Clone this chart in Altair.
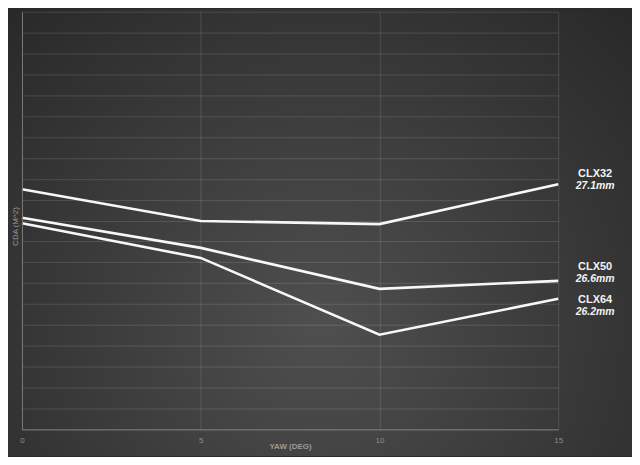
import altair as alt
import pandas as pd

# ---- data (y in grid units, 20 gridline intervals) ----
yaw = [0, 5, 10, 15]
series_names = ["CLX32", "CLX50", "CLX64"]
series_depths = ["27.1mm", "26.6mm", "26.2mm"]
clx32 = [11.50, 9.98, 9.83, 11.74]
clx50 = [10.13, 8.69, 6.73, 7.11]
clx64 = [9.87, 8.21, 4.53, 6.25]
x_ticks = [0, 5, 10, 15]
y_grid = list(range(0, 21))

# label offsets (pixels) relative to each line's last point
name_dy = [-10, -14, 1]
depth_dy = [2, -2, 13]

rows = []
for name, vals in zip(series_names, [clx32, clx50, clx64]):
    for x, v in zip(yaw, vals):
        rows.append({"series": name, "yaw": x, "cda": v})
df = pd.DataFrame(rows)

W, H = 538, 419
PAD = {"left": 14, "top": 3, "right": 74, "bottom": 27}

bg = alt.Chart(pd.DataFrame({"a": [0]})).mark_rect(
    color={
        "gradient": "radial",
        "stops": [
            {"offset": 0, "color": "#4f4f4f"},
            {"offset": 1, "color": "#252525"},
        ],
        "x1": 0.5, "y1": 0.65, "r1": 0,
        "x2": 0.5, "y2": 0.65, "r2": 0.78,
    }
).encode(
    x=alt.value(-PAD["left"]),
    x2=alt.value(W + PAD["right"]),
    y=alt.value(-PAD["top"]),
    y2=alt.value(H + PAD["bottom"]),
)

x_enc = alt.X(
    "yaw:Q",
    scale=alt.Scale(domain=[0, 15], nice=False),
    axis=alt.Axis(
        values=x_ticks,
        title="YAW (DEG)",
        ticks=False,
        labelPadding=7,
        labelFontSize=8,
        labelColor="#8c8c8c",
        labelFont="Liberation Sans",
        labelFlush=False,
        titleFontSize=8,
        titleFontWeight="bold",
        titleColor="#9a9a9a",
        titleFont="Liberation Sans",
        titleY=13,
        titleBaseline="top",
        domainColor="#7a7a7a",
        gridColor="#ffffff",
        gridOpacity=0.13,
        zindex=1,
    ),
)
y_enc = alt.Y(
    "cda:Q",
    scale=alt.Scale(domain=[0, 20], nice=False, zero=True),
    axis=alt.Axis(
        values=y_grid,
        labels=False,
        ticks=False,
        title="CDA (M^2)",
        titleFontSize=8,
        titleFontWeight="normal",
        titleColor="#9a9a9a",
        titleFont="Liberation Sans",
        titleX=-6,
        titleY=215,
        titleAngle=270,
        titleAlign="center",
        titleBaseline="middle",
        domainColor="#7a7a7a",
        gridColor="#ffffff",
        gridOpacity=0.13,
        zindex=1,
    ),
)

lines = alt.Chart(df).mark_line(color="#f7f7f7", strokeWidth=2.6).encode(
    x=x_enc, y=y_enc, detail="series:N"
)

layers = [bg, lines]
for name, depth, vals, ndy, ddy in zip(series_names, series_depths,
                                        [clx32, clx50, clx64], name_dy, depth_dy):
    end = pd.DataFrame({"yaw": [yaw[-1]], "cda": [vals[-1]],
                        "name": [name], "depth": [depth]})
    base = alt.Chart(end)
    layers.append(
        base.mark_text(dx=37, dy=ndy, align="center", baseline="middle",
                       font="Liberation Sans", fontWeight="bold",
                       fontSize=11, color="#f2f2f2").encode(
            x=x_enc, y=y_enc, text="name:N")
    )
    layers.append(
        base.mark_text(dx=37, dy=ddy, align="center", baseline="middle",
                       font="Liberation Sans", fontWeight="bold",
                       fontStyle="italic", fontSize=10.5,
                       color="#f2f2f2").encode(
            x=x_enc, y=y_enc, text="depth:N")
    )

chart = alt.layer(*layers).properties(
    width=W, height=H, padding=PAD, autosize="none", background="#262626"
).configure_view(stroke=None)

chart.save("out.html", embed_options={"renderer": "svg", "actions": False})
